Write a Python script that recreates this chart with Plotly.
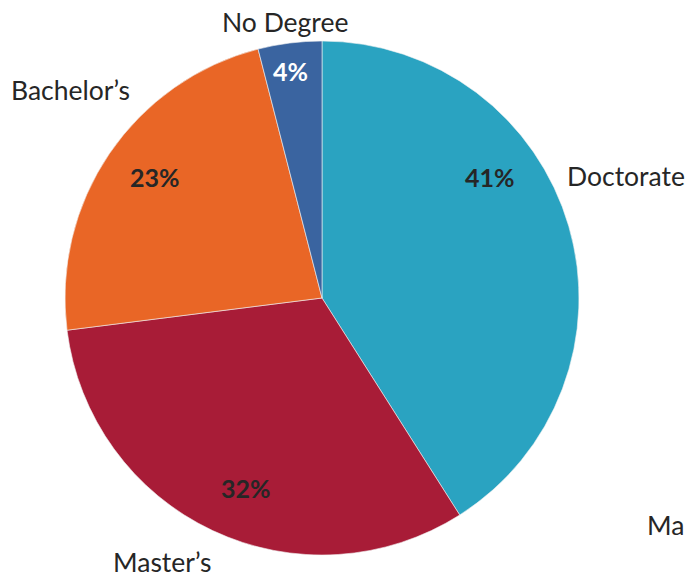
import plotly.graph_objects as go

# Highest degree share
categories = ["Doctorate", "Master’s", "Bachelor’s", "No Degree"]
values = [41, 32, 23, 4]
colors = ["#2AA3C1", "#A81C37", "#E96626", "#3A64A0"]
pct_colors = ["#262626", "#262626", "#262626", "#FFFFFF"]

W, H = 687, 580
cx, cy, r = 322, 298, 257

fig = go.Figure(go.Pie(
    labels=categories,
    values=values,
    sort=False,
    direction="clockwise",
    rotation=0,
    marker=dict(colors=colors, line=dict(color="#F2F2F2", width=0.6)),
    textinfo="none",
    hoverinfo="label+percent",
    domain=dict(x=[(cx - r) / W, (cx + r) / W], y=[1 - (cy + r) / H, 1 - (cy - r) / H]),
    showlegend=False,
))

FONT = "Lato, Carlito, Calibri, sans-serif"
total = sum(values)

# percentage labels inside the slices (pixel positions)
pct_pos = [(490, 177), (246, 488), (155, 177), (290, 71)]
for v, (px, py), c in zip(values, pct_pos, pct_colors):
    fig.add_annotation(
        x=px / W, y=1 - py / H, xref="paper", yref="paper",
        text=f"<b>{round(100 * v / total)}%</b>", showarrow=False,
        font=dict(family=FONT, size=25, color=c),
        xanchor="center", yanchor="middle",
    )

# category labels around the pie
label_pos = [
    ("Doctorate", 626, 176, "center"),
    ("Master’s", 162, 562, "center"),
    ("Bachelor’s", 70, 90, "center"),
    ("No Degree", 285, 22, "center"),
    ("Ma", 685, 525, "right"),
]
for txt, px, py, anc in label_pos:
    fig.add_annotation(
        x=px / W, y=1 - py / H, xref="paper", yref="paper",
        text=txt, showarrow=False, borderpad=0,
        font=dict(family=FONT, size=26.5, color="#262626"),
        xanchor=anc, yanchor="middle",
    )

fig.update_layout(
    width=W, height=H,
    margin=dict(l=0, r=0, t=0, b=0),
    paper_bgcolor="white", plot_bgcolor="white",
)

fig.write_html("out.html")
